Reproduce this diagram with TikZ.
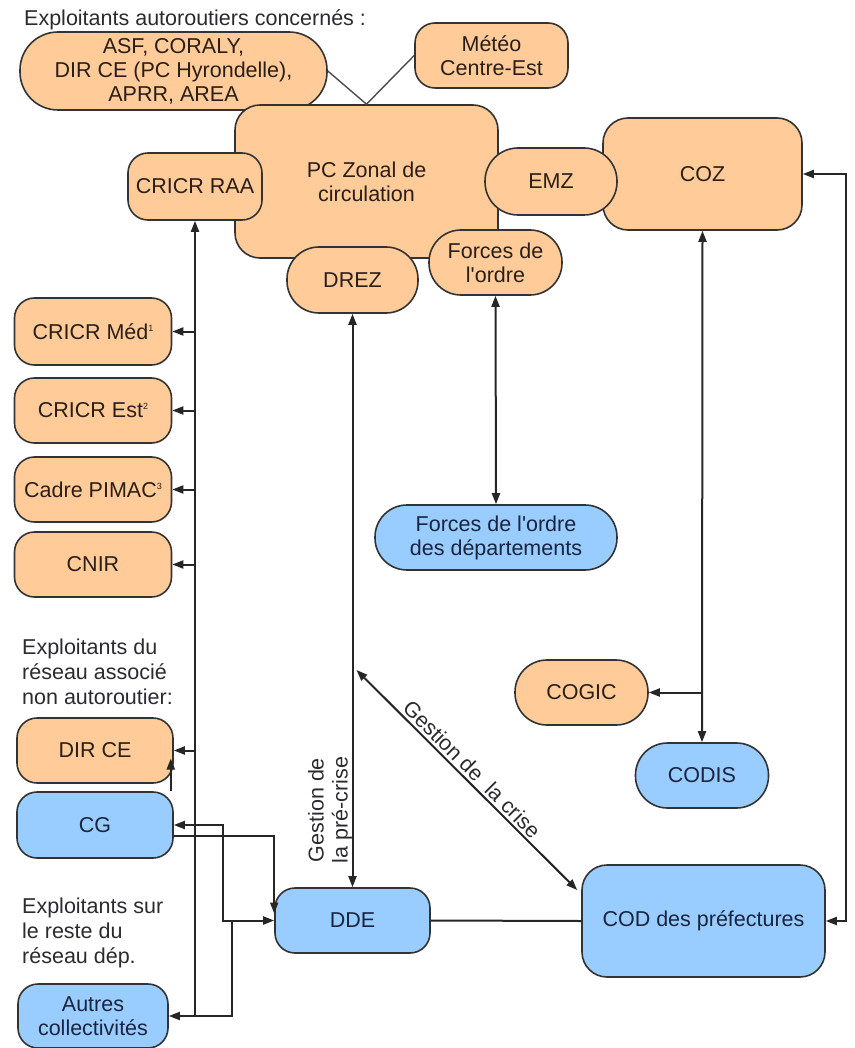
\documentclass[tikz,border=0pt]{standalone}
\usepackage{fontspec}
\setmainfont{Liberation Sans}
\usetikzlibrary{arrows.meta,calc}
\definecolor{org}{HTML}{FFCC99}
\definecolor{blu}{HTML}{99CCFF}
\definecolor{edgec}{HTML}{333333}
\definecolor{txto}{HTML}{2A1E18}
\definecolor{txtb}{HTML}{182440}
\definecolor{txtl}{HTML}{2A2A30}
\newcommand{\supn}[1]{\raisebox{8pt}{\fontsize{9}{9}\selectfont #1}}
\newcommand{\apos}{\XeTeXglyph\XeTeXcharglyph"27\relax}
\begin{document}
\begin{tikzpicture}[x=1pt,y=-1pt,
  every node/.style={font=\fontsize{21.5}{24}\selectfont},
  box/.style={draw=edgec, line width=1.6pt, inner sep=0pt, align=center},
  obox/.style={box, fill=org, text=txto},
  bbox/.style={box, fill=blu, text=txtb},
  conn/.style={draw=black!85, line width=2pt},
  thinconn/.style={draw=black!70, line width=1.4pt},
  arr/.style={conn, -{Triangle[length=11pt,width=8pt]}},
  arrtwo/.style={conn, {Triangle[length=11pt,width=8pt]}-{Triangle[length=11pt,width=8pt]}},
  lbl/.style={align=left, inner sep=0pt, text=txtl, font=\fontsize{21.5}{25}\selectfont}
]
\useasboundingbox (0,0) rectangle (854,1048);

% titles
\node[lbl, anchor=west] (t1) at (24,20) {Exploitants autoroutiers concernés :};
\node[lbl, anchor=west] (t2) at (22,672) {Exploitants du\\réseau associé\\non autoroutier:};
\node[lbl, anchor=west] (t3) at (22,933) {Exploitants sur\\le reste du\\réseau dép.};

% top cluster
\node[obox, minimum width=307pt, minimum height=78pt, rounded corners=38pt] (asf) at (173.5,71) {ASF, CORALY,\\DIR CE (PC Hyrondelle),\\APRR, AREA};
\node[obox, minimum width=153pt, minimum height=65pt, rounded corners=20pt] (meteo) at (491.5,55.5) {Météo\\Centre-Est};
\node[obox, minimum width=263pt, minimum height=153pt, rounded corners=25pt] (pcz) at (366.5,181.5) {PC Zonal de\\circulation};
\node[obox, minimum width=134pt, minimum height=67pt, rounded corners=20pt] (cricrraa) at (195,186.5) {CRICR RAA};
\node[obox, minimum width=131pt, minimum height=66pt, rounded corners=32pt] (drez) at (352.5,280) {DREZ};
\node[obox, minimum width=133pt, minimum height=65pt, rounded corners=32pt] (fdo) at (495.5,262.5) {Forces de\\l\apos ordre};
\node[obox, minimum width=199pt, minimum height=112pt, rounded corners=25pt] (coz) at (702.5,174) {COZ};
\node[obox, minimum width=132pt, minimum height=67pt, rounded corners=33pt] (emz) at (551,181.5) {EMZ};

% left column
\node[obox, minimum width=157pt, minimum height=67pt, rounded corners=20pt] (cricrmed) at (93,331.5) {CRICR Méd\supn{1}};
\node[obox, minimum width=157pt, minimum height=65pt, rounded corners=20pt] (cricrest) at (93,410.5) {CRICR Est\supn{2}};
\node[obox, minimum width=157pt, minimum height=65pt, rounded corners=20pt] (pimac) at (93,489.5) {Cadre PIMAC\supn{3}};
\node[obox, minimum width=157pt, minimum height=65pt, rounded corners=20pt] (cnir) at (93,564.5) {CNIR};
\node[obox, minimum width=156pt, minimum height=65pt, rounded corners=20pt] (direce) at (95,750.5) {DIR CE};
\node[bbox, minimum width=156pt, minimum height=66pt, rounded corners=20pt] (cg) at (95,825) {CG};
\node[bbox, minimum width=150pt, minimum height=64pt, rounded corners=20pt] (autres) at (93,1016) {Autres\\collectivités};

% middle / right
\node[bbox, minimum width=242pt, minimum height=65pt, rounded corners=32pt] (fdodep) at (496,537.5) {Forces de l\apos ordre\\des départements};
\node[obox, minimum width=133pt, minimum height=65pt, rounded corners=32pt] (cogic) at (581.5,692.5) {COGIC};
\node[bbox, minimum width=133pt, minimum height=65pt, rounded corners=32pt] (codis) at (702,775.5) {CODIS};
\node[bbox, minimum width=155pt, minimum height=65pt, rounded corners=20pt] (dde) at (352.5,920.5) {DDE};
\node[bbox, minimum width=243pt, minimum height=112pt, rounded corners=25pt] (cod) at (703.5,921) {COD des préfectures};

% connectors: top
\draw[thinconn] (asf.east) -- (pcz.north) -- (meteo.west);

% left bus
\draw[arr] (cricrraa.south |- autres.east) -- (cricrraa.south);
\foreach \n in {cricrmed,cricrest,pimac,cnir,direce}
  \draw[arr] (cricrraa.south |- \n.east) -- (\n.east);
\draw[arr] ($(dde.west)+(-42,0)$) |- (autres.east);
\draw[arrtwo] (cg.east) -- ++(49,0) |- (dde.west);
\draw[arr] ($(cg.east)+(0,11)$) -| ($(dde.west)+(0,-7)$);
\draw[arr] ($(cg.north east)+(-3,0)$) -- ($(direce.east)+(-3,8)$);

% DREZ - DDE
\draw[arrtwo] (drez.south) -- (dde.north);
\node[rotate=90, align=center, inner sep=0pt, text=txtl] (lpre) at (330,810) {Gestion de\\la pré-crise};

% crisis diagonal
\coordinate (lev) at (0,670);
\draw[arrtwo] ($(dde.north |- lev)+(4,0)$) -- ($(cod.west)+(-4,-31)$);
\node[rotate=-45, inner sep=0pt, text=txtl] (lcrise) at (472,769) {Gestion de\ \ la crise};

% forces de l'ordre
\draw[arrtwo] (fdo.south) -- (fdodep.north);

% COZ links
\draw[arrtwo] (coz.south) -- (codis.north);
\draw[arr] (coz.south |- cogic.east) -- (cogic.east);
\draw[arrtwo] (coz.east) -- ++(43,0) |- (cod.east);

% DDE - COD
\draw[conn] (dde.east) -- (cod.west);
\end{tikzpicture}
\end{document}
